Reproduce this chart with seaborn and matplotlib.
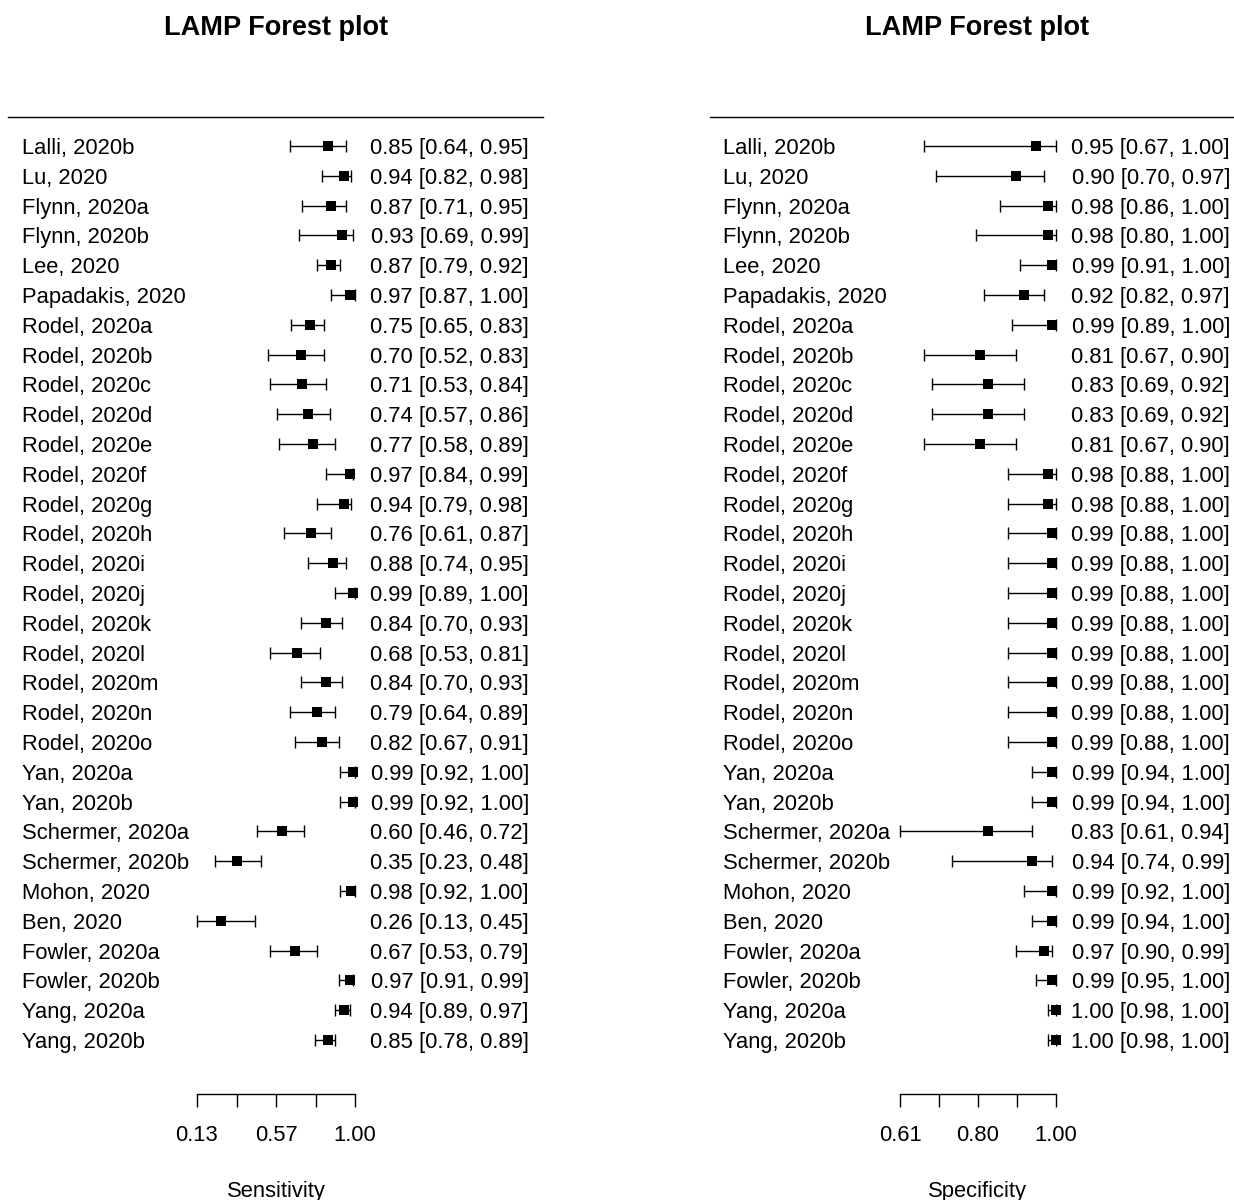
import matplotlib
matplotlib.use("Agg")
import matplotlib.pyplot as plt
import seaborn as sns
import numpy as np
import pandas as pd

studies = ["Lalli, 2020b", "Lu, 2020", "Flynn, 2020a", "Flynn, 2020b", "Lee, 2020",
           "Papadakis, 2020", "Rodel, 2020a", "Rodel, 2020b", "Rodel, 2020c", "Rodel, 2020d",
           "Rodel, 2020e", "Rodel, 2020f", "Rodel, 2020g", "Rodel, 2020h", "Rodel, 2020i",
           "Rodel, 2020j", "Rodel, 2020k", "Rodel, 2020l", "Rodel, 2020m", "Rodel, 2020n",
           "Rodel, 2020o", "Yan, 2020a", "Yan, 2020b", "Schermer, 2020a", "Schermer, 2020b",
           "Mohon, 2020", "Ben, 2020", "Fowler, 2020a", "Fowler, 2020b", "Yang, 2020a",
           "Yang, 2020b"]

sens_est = [0.85, 0.94, 0.87, 0.93, 0.87, 0.97, 0.75, 0.70, 0.71, 0.74, 0.77, 0.97, 0.94,
            0.76, 0.88, 0.99, 0.84, 0.68, 0.84, 0.79, 0.82, 0.99, 0.99, 0.60, 0.35, 0.98,
            0.26, 0.67, 0.97, 0.94, 0.85]
sens_lo = [0.64, 0.82, 0.71, 0.69, 0.79, 0.87, 0.65, 0.52, 0.53, 0.57, 0.58, 0.84, 0.79,
           0.61, 0.74, 0.89, 0.70, 0.53, 0.70, 0.64, 0.67, 0.92, 0.92, 0.46, 0.23, 0.92,
           0.13, 0.53, 0.91, 0.89, 0.78]
sens_hi = [0.95, 0.98, 0.95, 0.99, 0.92, 1.00, 0.83, 0.83, 0.84, 0.86, 0.89, 0.99, 0.98,
           0.87, 0.95, 1.00, 0.93, 0.81, 0.93, 0.89, 0.91, 1.00, 1.00, 0.72, 0.48, 1.00,
           0.45, 0.79, 0.99, 0.97, 0.89]

spec_est = [0.95, 0.90, 0.98, 0.98, 0.99, 0.92, 0.99, 0.81, 0.83, 0.83, 0.81, 0.98, 0.98,
            0.99, 0.99, 0.99, 0.99, 0.99, 0.99, 0.99, 0.99, 0.99, 0.99, 0.83, 0.94, 0.99,
            0.99, 0.97, 0.99, 1.00, 1.00]
spec_lo = [0.67, 0.70, 0.86, 0.80, 0.91, 0.82, 0.89, 0.67, 0.69, 0.69, 0.67, 0.88, 0.88,
           0.88, 0.88, 0.88, 0.88, 0.88, 0.88, 0.88, 0.88, 0.94, 0.94, 0.61, 0.74, 0.92,
           0.94, 0.90, 0.95, 0.98, 0.98]
spec_hi = [1.00, 0.97, 1.00, 1.00, 1.00, 0.97, 1.00, 0.90, 0.92, 0.92, 0.90, 1.00, 1.00,
           1.00, 1.00, 1.00, 1.00, 1.00, 1.00, 1.00, 1.00, 1.00, 1.00, 0.94, 0.99, 1.00,
           1.00, 0.99, 1.00, 1.00, 1.00]

sens_ticks = [0.13, 0.3475, 0.565, 0.7825, 1.00]
sens_ticklabels = ["0.13", "", "0.57", "", "1.00"]
spec_ticks = [0.61, 0.7075, 0.805, 0.9025, 1.00]
spec_ticklabels = ["0.61", "", "0.80", "", "1.00"]

titles = ["LAMP Forest plot", "LAMP Forest plot"]
xlabels = ["Sensitivity", "Specificity"]

sns.set_theme(style="white")
plt.rcParams['font.family'] = ['Liberation Sans', 'DejaVu Sans']

W, H = 1234, 1200
fig = plt.figure(figsize=(W / 100, H / 100), dpi=100)

n = len(studies)
ypos = np.arange(n, 0, -1)

TOP_PX, BOT_PX = 117, 1094
ROW0_PX, ROWSTEP = 146, 29.8
y_top = n + (ROW0_PX - TOP_PX) / ROWSTEP
y_bot = n - (BOT_PX - ROW0_PX) / ROWSTEP

panels = [
    dict(est=sens_est, lo=sens_lo, hi=sens_hi, ticks=sens_ticks, tl=sens_ticklabels,
         x0=8, x1=543, t0px=197, t1px=355, lab_px=22, txt_px=529, center_px=276,
         title=titles[0], xlabel=xlabels[0]),
    dict(est=spec_est, lo=spec_lo, hi=spec_hi, ticks=spec_ticks, tl=spec_ticklabels,
         x0=710, x1=1234, t0px=900, t1px=1056, lab_px=723, txt_px=1230, center_px=977,
         title=titles[1], xlabel=xlabels[1]),
]

FS = 15.8
for p in panels:
    ax = fig.add_axes([p["x0"] / W, 1 - BOT_PX / H, (p["x1"] - p["x0"]) / W, (BOT_PX - TOP_PX) / H])
    ppu = (p["t1px"] - p["t0px"]) / (p["ticks"][-1] - p["ticks"][0])
    xl = p["ticks"][0] - (p["t0px"] - p["x0"]) / ppu
    xr = p["ticks"][-1] + (p["x1"] - p["t1px"]) / ppu
    ax.set_xlim(xl, xr)
    ax.set_ylim(y_bot, y_top)

    df = pd.DataFrame({"study": studies, "est": p["est"], "lo": p["lo"], "hi": p["hi"], "y": ypos})
    est = df["est"].to_numpy()
    ax.errorbar(est, df["y"], xerr=[est - df["lo"].to_numpy(), df["hi"].to_numpy() - est],
                fmt="none", ecolor="black", elinewidth=1.0, capsize=4.6, capthick=1.0, zorder=2)
    sns.scatterplot(data=df, x="est", y="y", marker="s", s=62, color="black",
                    edgecolor="black", linewidth=0, ax=ax, zorder=3, legend=False)

    lab_x = xl + (p["lab_px"] - p["x0"]) / ppu
    txt_x = xl + (p["txt_px"] - p["x0"]) / ppu
    for _, r in df.iterrows():
        ax.text(lab_x, r["y"], r["study"], ha="left", va="center_baseline", fontsize=FS, color="black")
        ax.text(txt_x, r["y"], f"{r['est']:.2f} [{r['lo']:.2f}, {r['hi']:.2f}]",
                ha="right", va="center_baseline", fontsize=FS, color="black")

    for s in ["left", "right"]:
        ax.spines[s].set_visible(False)
    ax.spines["top"].set_color("black")
    ax.spines["top"].set_linewidth(1.0)
    ax.spines["bottom"].set_color("black")
    ax.spines["bottom"].set_linewidth(1.0)
    ax.spines["bottom"].set_bounds(p["ticks"][0], p["ticks"][-1])
    ax.set_yticks([])
    ax.set_xticks(p["ticks"])
    ax.set_xticklabels(p["tl"], fontsize=FS)
    ax.tick_params(axis="x", direction="out", length=9.5, width=1.0, color="black",
                   labelcolor="black", pad=13, bottom=True)
    cx = (p["center_px"] - p["x0"]) / (p["x1"] - p["x0"])
    ax.set_xlabel(p["xlabel"], fontsize=FS, labelpad=25, color="black")
    ax.xaxis.label.set_x(cx)
    ax.set_ylabel("")
    ax.set_title(p["title"], fontsize=19.5, fontweight="bold", pad=59, color="black", x=cx)

fig.savefig("out.png", dpi=100)
